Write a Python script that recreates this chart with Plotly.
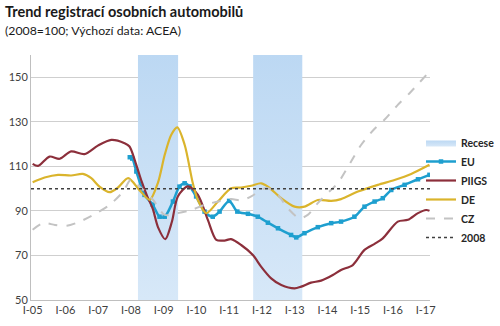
import plotly.graph_objects as go

# ---------------- data (x = months since Jan 2005) ----------------
TICK_MONTHS = [0, 12, 24, 36, 48, 60, 72, 84, 96, 108, 120, 132, 144]
TICK_LABELS = ["I-05", "I-06", "I-07", "I-08", "I-09", "I-10", "I-11",
               "I-12", "I-13", "I-14", "I-15", "I-16", "I-17"]

RECESSIONS = [(38.6, 53.3), (80.8, 98.8)]

EU_M = [35.6, 36.5, 38, 41, 44, 46.5, 48.4, 51.4, 53.8, 55.7, 57.5, 59.9, 63, 66, 68.5,
        72, 75, 78.9, 82.5, 86.2, 89.9, 94.7, 96.6, 99.6, 104.5, 109.4, 113, 117.9,
        121.6, 125.3, 128.3, 131.4, 136.3, 141.2, 145.4]
EU_V = [114.1, 113.5, 107.7, 97.2, 92.8, 87.4, 87.4, 94.2, 100.9, 102.4, 101.0, 96.5, 89.7,
        87.4, 89.7, 94.5, 89.7, 88.7, 87.4, 84.7, 82.2, 79.2, 78.1, 80.0, 82.7, 84.5, 85.2,
        87.4, 91.9, 94.2, 95.7, 99.4, 101.7, 104.2, 106.2]

PIIGS_M = [0, 2, 6.2, 9.9, 14.1, 19, 23.9, 28.8, 33.7, 35.5, 37.5, 40, 42, 44, 46, 48.6,
           51, 53.2, 56.9, 60.5, 64.2, 67.3, 70.3, 72.7, 76.4, 80.7, 83.7, 87.4, 91.1,
           96, 98.4, 102, 105.7, 110, 113, 117.3, 121.6, 125.3, 128.3, 133.8, 137.5,
           141.2, 144.2, 145.4]
PIIGS_V = [111.1, 110.2, 114.4, 113.4, 116.7, 115.5, 119.3, 121.9, 120.4, 118.9, 112.5,
           103.0, 96.5, 91.0, 82.5, 77.3, 85.0, 96.5, 101.0, 97.3, 86.0, 77.0, 76.7, 77.3,
           74.7, 70.2, 65.0, 59.7, 56.7, 55.2, 56.0, 57.8, 58.7, 61.2, 63.5, 65.7, 72.5,
           75.2, 77.7, 85.2, 86.0, 89.0, 90.4, 90.1]

DE_M = [0, 4.4, 9.3, 14.1, 18.4, 21.5, 24.5, 28.2, 31.2, 35, 39.3, 42.9, 45.9, 48.4, 50.8,
        53, 55.7, 58.7, 60.5, 63.6, 67.9, 72.7, 76.4, 80.1, 83.7, 86.2, 91.1, 96, 99.6,
        104.5, 109.4, 113, 119.2, 126.5, 132.6, 138.7, 145.4]
DE_V = [102.9, 105.0, 106.2, 105.9, 106.6, 104.7, 100.9, 98.4, 100.4, 104.7, 99.1, 95.0,
        102.6, 115.2, 124.2, 127.5, 119.7, 102.4, 95.0, 89.0, 94.2, 100.2, 100.5, 101.3,
        102.4, 100.9, 95.7, 91.9, 91.9, 94.9, 94.5, 95.3, 98.7, 101.7, 103.9, 106.6, 110.7]

CZ_M = [0, 3.9, 8.2, 12.5, 17.3, 23.4, 28.3, 33.2, 36, 39.8, 44.1, 48.4, 53.2, 58.1, 63,
        67.9, 72.7, 76.4, 80.1, 83.7, 86.2, 89.9, 93.5, 97.8, 100.8, 104.5, 109.4, 111.8,
        116.7, 120.4, 125.3, 128.9, 133.8, 138.7, 145.4]
CZ_V = [81.5, 84.5, 83.7, 83.3, 85.2, 89.0, 92.8, 98.7, 104.0, 100.2, 95.0, 88.2, 89.0,
        90.4, 92.7, 94.2, 95.3, 94.8, 96.5, 99.5, 100.2, 97.2, 91.2, 86.7, 88.2, 93.5,
        99.5, 102.4, 112.2, 119.7, 126.9, 130.9, 137.6, 143.6, 152.6]

BASE_2008 = 100
Y_MIN, Y_MAX = 50, 160
X_RANGE = [-0.6, 145.6]

# ---------------- figure ----------------
fig = go.Figure()

# recession bands as one filled trace (for the legend entry)
rx, ry = [], []
for a, b in RECESSIONS:
    rx += [a, b, b, a, a, None]
    ry += [Y_MIN, Y_MIN, Y_MAX, Y_MAX, Y_MIN, None]
fig.add_trace(go.Scatter(
    x=rx, y=ry, mode="lines", fill="toself", name="Recese",
    line=dict(width=0, color="rgba(0,0,0,0)"),
    fillgradient=dict(type="vertical",
                      colorscale=[[0, "#d7e8f8"], [1, "#bcd8f3"]]),
    hoverinfo="skip"))

fig.add_trace(go.Scatter(
    x=EU_M, y=EU_V, name="EU", mode="lines+markers",
    line=dict(color="#1e9fcf", width=2.5, shape="spline", smoothing=0.8),
    marker=dict(symbol="square", size=4.5, color="#1e9fcf")))
fig.add_trace(go.Scatter(
    x=PIIGS_M, y=PIIGS_V, name="PIIGS", mode="lines",
    line=dict(color="#8c2f3b", width=2.2, shape="spline", smoothing=0.8)))
fig.add_trace(go.Scatter(
    x=DE_M, y=DE_V, name="DE", mode="lines",
    line=dict(color="#dab42c", width=2.2, shape="spline", smoothing=0.8)))
fig.add_trace(go.Scatter(
    x=CZ_M, y=CZ_V, name="CZ", mode="lines",
    line=dict(color="#c3c3c3", width=2, dash="dash", shape="spline", smoothing=0.8)))
fig.add_trace(go.Scatter(
    x=X_RANGE, y=[BASE_2008, BASE_2008], name="2008", mode="lines",
    line=dict(color="#404040", width=1.5, dash="dot")))

L, R, T, B = 31, 70, 55, 26
W, H = 500, 326
ph = H - T - B
pw = W - L - R

def px_x(x):
    return (x - L) / pw

def px_y(y):
    return (H - B - y) / ph

fig.update_layout(
    width=W, height=H,
    margin=dict(l=L, r=R, t=T, b=B, autoexpand=False),
    paper_bgcolor="white", plot_bgcolor="white",
    font=dict(family="Lato, Open Sans, sans-serif", size=11, color="#404040"),
    showlegend=True,
    legend=dict(x=px_x(421), y=px_y(128), xanchor="left", yanchor="top",
                font=dict(size=10.5, color="#262626", family="Lato, sans-serif", weight="bold"),
                bgcolor="rgba(0,0,0,0)", itemwidth=30, tracegroupgap=0),
    annotations=[
        dict(text="<b>Trend registrací osobních automobilů</b>", x=px_x(3), y=px_y(12),
             xref="paper", yref="paper", xanchor="left", yanchor="middle",
             showarrow=False, font=dict(size=14.5, color="#1a1a1a")),
        dict(text="(2008=100; Výchozí data: ACEA)", x=px_x(3), y=px_y(31),
             xref="paper", yref="paper", xanchor="left", yanchor="middle",
             showarrow=False, font=dict(size=12.3, color="#1a1a1a")),
    ],
)
fig.update_xaxes(range=X_RANGE, tickvals=TICK_MONTHS, ticktext=TICK_LABELS,
                 showgrid=False, zeroline=False, showline=True, linecolor="#bfbfbf",
                 linewidth=1, ticks="", tickfont=dict(size=11, color="#404040"))
fig.update_yaxes(range=[Y_MIN, Y_MAX], tickvals=[50, 70, 90, 110, 130, 150],
                 showgrid=True, gridcolor="#cfcfcf", gridwidth=1, zeroline=False,
                 showline=True, linecolor="#bfbfbf", linewidth=1, ticks="",
                 tickfont=dict(size=11, color="#404040"))

fig.write_html("out.html")
